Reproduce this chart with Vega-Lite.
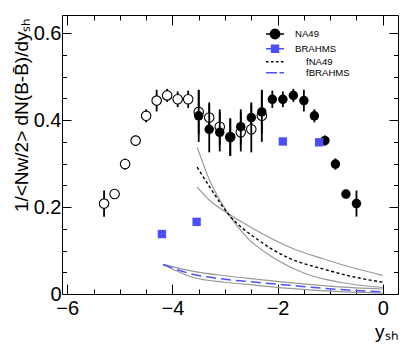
{
  "$schema": "https://vega.github.io/schema/vega-lite/v6.json",
  "width": 336,
  "height": 279,
  "autosize": {"type": "none"},
  "padding": {"left": 62, "top": 15, "right": 13, "bottom": 54},
  "background": "white",
  "config": {
    "view": {"stroke": "black", "strokeWidth": 1},
    "axis": {"domain": false, "grid": false, "tickColor": "black", "tickWidth": 1, "labelColor": "black", "labelFont": "Liberation Sans", "titleFont": "Liberation Sans", "titleFontWeight": "normal", "titleColor": "black"}
  },
  "datasets": {
    "na49": [
      {"x": -3.5, "y": 0.410, "lo": 0.350, "hi": 0.470, "series": "NA49"},
      {"x": -3.3, "y": 0.379, "lo": 0.326, "hi": 0.436, "series": "NA49"},
      {"x": -3.1, "y": 0.372, "lo": 0.328, "hi": 0.418, "series": "NA49"},
      {"x": -2.9, "y": 0.361, "lo": 0.318, "hi": 0.404, "series": "NA49"},
      {"x": -2.7, "y": 0.385, "lo": 0.342, "hi": 0.425, "series": "NA49"},
      {"x": -2.5, "y": 0.406, "lo": 0.369, "hi": 0.441, "series": "NA49"},
      {"x": -2.3, "y": 0.419, "lo": 0.369, "hi": 0.469, "series": "NA49"},
      {"x": -2.1, "y": 0.448, "lo": 0.428, "hi": 0.468, "series": "NA49"},
      {"x": -1.9, "y": 0.448, "lo": 0.430, "hi": 0.466, "series": "NA49"},
      {"x": -1.7, "y": 0.457, "lo": 0.442, "hi": 0.472, "series": "NA49"},
      {"x": -1.5, "y": 0.445, "lo": 0.420, "hi": 0.470, "series": "NA49"},
      {"x": -1.3, "y": 0.410, "lo": 0.395, "hi": 0.425, "series": "NA49"},
      {"x": -1.1, "y": 0.353, "lo": 0.341, "hi": 0.365, "series": "NA49"},
      {"x": -0.9, "y": 0.299, "lo": 0.286, "hi": 0.312, "series": "NA49"},
      {"x": -0.7, "y": 0.230, "lo": 0.220, "hi": 0.240, "series": "NA49"},
      {"x": -0.5, "y": 0.208, "lo": 0.178, "hi": 0.238, "series": "NA49"}
    ],
    "refl": [
      {"x": -5.3, "y": 0.208, "lo": 0.178, "hi": 0.238},
      {"x": -5.1, "y": 0.230, "lo": 0.220, "hi": 0.240},
      {"x": -4.9, "y": 0.299, "lo": 0.286, "hi": 0.312},
      {"x": -4.7, "y": 0.353, "lo": 0.341, "hi": 0.365},
      {"x": -4.5, "y": 0.410, "lo": 0.395, "hi": 0.425},
      {"x": -4.3, "y": 0.445, "lo": 0.420, "hi": 0.470},
      {"x": -4.1, "y": 0.457, "lo": 0.442, "hi": 0.472},
      {"x": -3.9, "y": 0.448, "lo": 0.430, "hi": 0.466},
      {"x": -3.7, "y": 0.448, "lo": 0.428, "hi": 0.468},
      {"x": -3.5, "y": 0.419, "lo": 0.369, "hi": 0.469},
      {"x": -3.3, "y": 0.406, "lo": 0.369, "hi": 0.441},
      {"x": -3.1, "y": 0.385, "lo": 0.342, "hi": 0.425},
      {"x": -2.9, "y": 0.361, "lo": 0.318, "hi": 0.404},
      {"x": -2.7, "y": 0.372, "lo": 0.328, "hi": 0.418},
      {"x": -2.5, "y": 0.379, "lo": 0.326, "hi": 0.436},
      {"x": -2.3, "y": 0.410, "lo": 0.350, "hi": 0.470}
    ],
    "brahms": [
      {"x": -4.20, "y": 0.138, "series": "BRAHMS"},
      {"x": -3.54, "y": 0.166, "series": "BRAHMS"},
      {"x": -1.90, "y": 0.351, "series": "BRAHMS"},
      {"x": -1.21, "y": 0.349, "series": "BRAHMS"}
    ],
    "curves": [
      {"series": "nhi", "x": -3.53, "y": 0.338},
      {"series": "nhi", "x": -3.29, "y": 0.261},
      {"series": "nhi", "x": -2.94, "y": 0.185},
      {"series": "nhi", "x": -2.59, "y": 0.131},
      {"series": "nhi", "x": -2.09, "y": 0.0845},
      {"series": "nhi", "x": -1.45, "y": 0.046},
      {"series": "nhi", "x": -0.82, "y": 0.027},
      {"series": "nhi", "x": 0.0, "y": 0.015},
      {"series": "nlo", "x": -3.53, "y": 0.246},
      {"series": "nlo", "x": -3.29, "y": 0.215},
      {"series": "nlo", "x": -2.94, "y": 0.185},
      {"series": "nlo", "x": -2.40, "y": 0.146},
      {"series": "nlo", "x": -1.77, "y": 0.1075},
      {"series": "nlo", "x": -1.14, "y": 0.081},
      {"series": "nlo", "x": -0.50, "y": 0.058},
      {"series": "nlo", "x": 0.0, "y": 0.043},
      {"series": "fNA49", "x": -3.53, "y": 0.292},
      {"series": "fNA49", "x": -3.29, "y": 0.246},
      {"series": "fNA49", "x": -2.91, "y": 0.180},
      {"series": "fNA49", "x": -2.40, "y": 0.127},
      {"series": "fNA49", "x": -1.77, "y": 0.082},
      {"series": "fNA49", "x": -1.14, "y": 0.0577},
      {"series": "fNA49", "x": -0.50, "y": 0.038},
      {"series": "fNA49", "x": 0.0, "y": 0.027},
      {"series": "bhi", "x": -4.18, "y": 0.068},
      {"series": "bhi", "x": -3.6, "y": 0.052},
      {"series": "bhi", "x": -3.0, "y": 0.042},
      {"series": "bhi", "x": -2.4, "y": 0.034},
      {"series": "bhi", "x": -1.77, "y": 0.026},
      {"series": "bhi", "x": -0.9, "y": 0.017},
      {"series": "bhi", "x": 0.0, "y": 0.0115},
      {"series": "blo", "x": -4.18, "y": 0.068},
      {"series": "blo", "x": -3.6, "y": 0.038},
      {"series": "blo", "x": -3.0, "y": 0.027},
      {"series": "blo", "x": -2.4, "y": 0.020},
      {"series": "blo", "x": -1.77, "y": 0.013},
      {"series": "blo", "x": -0.9, "y": 0.006},
      {"series": "blo", "x": 0.0, "y": 0.002},
      {"series": "fBRAHMS", "x": -4.18, "y": 0.068},
      {"series": "fBRAHMS", "x": -3.6, "y": 0.045},
      {"series": "fBRAHMS", "x": -3.0, "y": 0.034},
      {"series": "fBRAHMS", "x": -2.4, "y": 0.027},
      {"series": "fBRAHMS", "x": -1.77, "y": 0.020},
      {"series": "fBRAHMS", "x": -0.9, "y": 0.011},
      {"series": "fBRAHMS", "x": 0.0, "y": 0.005}
    ]
  },
  "resolve": {"axis": {"x": "independent", "y": "independent"}},
  "layer": [
    {
      "data": {"name": "curves"},
      "transform": [{"filter": "datum.series==='nhi' || datum.series==='nlo' || datum.series==='bhi' || datum.series==='blo'"}],
      "mark": {"type": "line", "color": "#999999", "strokeWidth": 1.2, "interpolate": "monotone"},
      "encoding": {
        "x": {"field": "x", "type": "quantitative", "scale": {"domain": [-6.1, 0.29], "nice": false, "zero": false},
          "axis": {"orient": "bottom", "values": [-6,-5.5,-5,-4.5,-4,-3.5,-3,-2.5,-2,-1.5,-1,-0.5,0],
            "title": "yₛₕ", "titleFontSize": 19, "titleAlign": "right", "titleX": 336, "titleY": 43, "titleBaseline": "alphabetic",
            "labelFontSize": 20, "labelBaseline": "top", "labelOverlap": false, "labelFlush": false,
            "labelExpr": "abs(datum.value/2-round(datum.value/2))<1e-6 ? format(datum.value,'d') : ''",
            "tickSize": {"condition": {"test": "abs(datum.value/2-round(datum.value/2))<1e-6", "value": -10}, "value": -5},
            "labelPadding": 14}},
        "y": {"field": "y", "type": "quantitative", "scale": {"domain": [0, 0.642], "nice": false, "zero": false},
          "axis": {"orient": "left", "values": [0,0.05,0.1,0.15,0.2,0.25,0.3,0.35,0.4,0.45,0.5,0.55,0.6],
            "title": "1/<Nᴡ/2> dN(B-B̄)/dyₛₕ", "titleFontSize": 19, "titleAlign": "right", "titleX": -35, "titleY": 2, "titleBaseline": "alphabetic", "titleAngle": 270,
            "labelFontSize": 20, "labelOverlap": false, "labelFlush": false,
            "labelExpr": "abs(datum.value*5-round(datum.value*5))<1e-6 ? format(datum.value,'~g') : ''",
            "tickSize": {"condition": {"test": "abs(datum.value*5-round(datum.value*5))<1e-6", "value": -9}, "value": -4.5},
            "labelPadding": 10}},
        "detail": {"field": "series"}
      }
    },
    {
      "data": {"name": "curves"},
      "transform": [{"filter": "datum.series==='fNA49'"}],
      "mark": {"type": "line", "strokeWidth": 1.4, "strokeDash": [3, 2.5], "interpolate": "monotone"},
      "encoding": {
        "x": {"field": "x", "type": "quantitative",
          "axis": {"orient": "top", "values": [-6,-5.5,-5,-4.5,-4,-3.5,-3,-2.5,-2,-1.5,-1,-0.5,0], "labels": false, "title": null,
            "tickSize": {"condition": {"test": "abs(datum.value/2-round(datum.value/2))<1e-6", "value": -10}, "value": -5}}},
        "y": {"field": "y", "type": "quantitative",
          "axis": {"orient": "right", "values": [0,0.05,0.1,0.15,0.2,0.25,0.3,0.35,0.4,0.45,0.5,0.55,0.6], "labels": false, "title": null,
            "tickSize": {"condition": {"test": "abs(datum.value*5-round(datum.value*5))<1e-6", "value": -9}, "value": -4.5}}},
        "color": {"field": "series", "type": "nominal",
          "scale": {"domain": ["NA49", "BRAHMS", "fNA49", "fBRAHMS"], "range": ["black", "#4d4dff", "black", "#5050ff"]},
          "legend": {"orient": "none", "legendX": 204, "legendY": 13, "title": null, "padding": 0, "columns": 1, "direction": "vertical",
            "labelFont": "Liberation Sans", "labelFontSize": 9.6, "labelColor": "black", "labelAlign": "left",
            "symbolSize": 100, "rowPadding": -0.3,
            "encode": {
              "symbols": {"update": {
                "x": {"value": 9},
                "shape": {"signal": "datum.value==='NA49' ? 'M-1.8,0H1.8M0.95,0A0.95,0.95 0 1,1 -0.95,0A0.95,0.95 0 1,1 0.95,0Z' : datum.value==='BRAHMS' ? 'M-1.8,0H1.8M-0.7,-0.7H0.7V0.7H-0.7Z' : datum.value==='fNA49' ? 'M-1.8,0H-1.3M-0.8,0H-0.3M0.2,0H0.7M1.2,0H1.7' : 'M-1.8,0H0.4M0.9,0H1.8'"},
                "fill": {"signal": "datum.value==='BRAHMS' || datum.value==='fBRAHMS' ? '#4d4dff' : 'black'"},
                "stroke": {"signal": "datum.value==='BRAHMS' || datum.value==='fBRAHMS' ? '#4d4dff' : 'black'"},
                "strokeWidth": {"value": 1.4},
                "opacity": {"value": 1}
              }},
              "labels": {"update": {"x": {"signal": "datum.value==='fNA49' || datum.value==='fBRAHMS' ? 40 : 29"}}}
            }}
        }
      }
    },
    {
      "data": {"name": "curves"},
      "transform": [{"filter": "datum.series==='fBRAHMS'"}],
      "mark": {"type": "line", "strokeWidth": 1.5, "strokeDash": [10, 5], "interpolate": "monotone"},
      "encoding": {
        "x": {"field": "x", "type": "quantitative", "axis": null},
        "y": {"field": "y", "type": "quantitative", "axis": null},
        "color": {"field": "series", "type": "nominal"}
      }
    },
    {
      "data": {"name": "refl"},
      "mark": {"type": "rule", "color": "black", "strokeWidth": 1.8},
      "encoding": {
        "x": {"field": "x", "type": "quantitative", "axis": null},
        "y": {"field": "lo", "type": "quantitative", "axis": null},
        "y2": {"field": "hi"}
      }
    },
    {
      "data": {"name": "refl"},
      "mark": {"type": "point", "shape": "circle", "filled": false, "fill": "white", "fillOpacity": 1, "stroke": "black", "strokeWidth": 1.1, "size": 90, "opacity": 1},
      "encoding": {
        "x": {"field": "x", "type": "quantitative", "axis": null},
        "y": {"field": "y", "type": "quantitative", "axis": null}
      }
    },
    {
      "data": {"name": "na49"},
      "mark": {"type": "rule", "color": "black", "strokeWidth": 1.8},
      "encoding": {
        "x": {"field": "x", "type": "quantitative", "axis": null},
        "y": {"field": "lo", "type": "quantitative", "axis": null},
        "y2": {"field": "hi"}
      }
    },
    {
      "data": {"name": "na49"},
      "mark": {"type": "point", "shape": "circle", "filled": true, "size": 90, "opacity": 1},
      "encoding": {
        "x": {"field": "x", "type": "quantitative", "axis": null},
        "y": {"field": "y", "type": "quantitative", "axis": null},
        "color": {"field": "series", "type": "nominal"}
      }
    },
    {
      "data": {"name": "brahms"},
      "mark": {"type": "point", "shape": "square", "filled": true, "size": 70, "opacity": 1},
      "encoding": {
        "x": {"field": "x", "type": "quantitative", "axis": null},
        "y": {"field": "y", "type": "quantitative", "axis": null},
        "color": {"field": "series", "type": "nominal"}
      }
    }
  ]
}
